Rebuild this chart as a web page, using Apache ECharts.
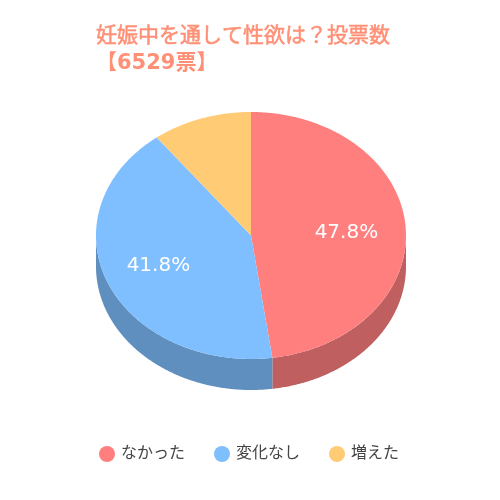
<!DOCTYPE html>
<html><head><meta charset="utf-8">
<style>html,body{margin:0;padding:0;background:#fff}#c{width:500px;height:500px}</style>
<script src="https://cdn.jsdelivr.net/npm/echarts@6/dist/echarts.min.js"></script>
</head><body><div id="c"></div>
<script>
const titleLines = ['妊娠中を通して性欲は？投票数', '【6529票】'];
const categories = ['なかった', '変化なし', '増えた'];
const shares = [47.8, 41.8, 10.4];
const labelShown = [true, true, false];
const topColors = ['#ff7f7f', '#7fbfff', '#ffcc75'];
const sideColors = ['#bf5f5f', '#5f8fbf', '#bf9958'];

const FONT = '"DejaVu Sans","Noto Sans CJK JP",sans-serif';
const CX = 251, CY = 235.5, RX = 155, RY = 123.5, DEPTH = 31, LABEL_R = 0.63;
const LABEL_SHIFT = [[-2, 3], [-2.5, 0], [0, 0]];
const total = shares.reduce((a, b) => a + b, 0);
const pt = (deg, k, dy) => {
  const t = deg * Math.PI / 180;
  return [CX + RX * k * Math.sin(t), CY - RY * k * Math.cos(t) + (dy || 0)];
};
const arc = (a, b, dy) => {
  const n = Math.max(2, Math.ceil((b - a) * 2)), out = [];
  for (let i = 0; i <= n; i++) out.push(pt(a + (b - a) * i / n, 1, dy));
  return out;
};
let running = 0;
const series = categories.map((name, i) => {
  const start = running; running += shares[i];
  return {
    type: 'custom', name, coordinateSystem: 'none',
    itemStyle: { color: topColors[i] },
    data: [[start, shares[i]]],
    renderItem: (params, api) => {
      const a = api.value(0) / total * 360, b = a + api.value(1) / total * 360;
      const children = [];
      const fa = Math.max(a, 90), fb = Math.min(b, 270);
      if (fb > fa) {
        children.push({ type: 'polygon', z2: 1,
          shape: { points: arc(fa, fb, 0).concat(arc(fa, fb, DEPTH).reverse()) },
          style: { fill: sideColors[i] } });
      }
      children.push({ type: 'polygon', z2: 2,
        shape: { points: [[CX, CY]].concat(arc(a, b, 0)) },
        style: { fill: topColors[i] } });
      if (labelShown[i]) {
        const p = pt((a + b) / 2, LABEL_R);
        children.push({ type: 'text', z2: 3, x: p[0] + LABEL_SHIFT[i][0], y: p[1] + LABEL_SHIFT[i][1],
          style: { text: api.value(1).toFixed(1) + '%', fill: '#fff', font: '20px ' + FONT,
            align: 'center', verticalAlign: 'middle' } });
      }
      return { type: 'group', children };
    }
  };
});
const chart = echarts.init(document.getElementById('c'), null, { renderer: 'canvas' });
chart.setOption({
  animation: false,
  backgroundColor: '#fff',
  color: topColors,
  title: {
    text: '{a|' + titleLines[0] + '}\n{b|' + titleLines[1] + '}', left: 91, top: 18,
    textStyle: {
      rich: {
        a: { color: '#ff8f75', fontSize: 21, fontWeight: 'normal', fontFamily: FONT, lineHeight: 27,
             textBorderColor: '#ff8f75', textBorderWidth: 0.5 },
        b: { color: '#ff8f75', fontSize: 21, fontWeight: 'bold', fontFamily: FONT, lineHeight: 27 }
      }
    }
  },
  legend: {
    bottom: 33, left: 94, icon: 'circle', itemWidth: 16, itemHeight: 16, itemGap: 29,
    textStyle: { color: '#444', fontSize: 16, fontFamily: FONT, padding: [0, 0, 0, 1] },
    data: categories
  },
  series
});
</script></body></html>
